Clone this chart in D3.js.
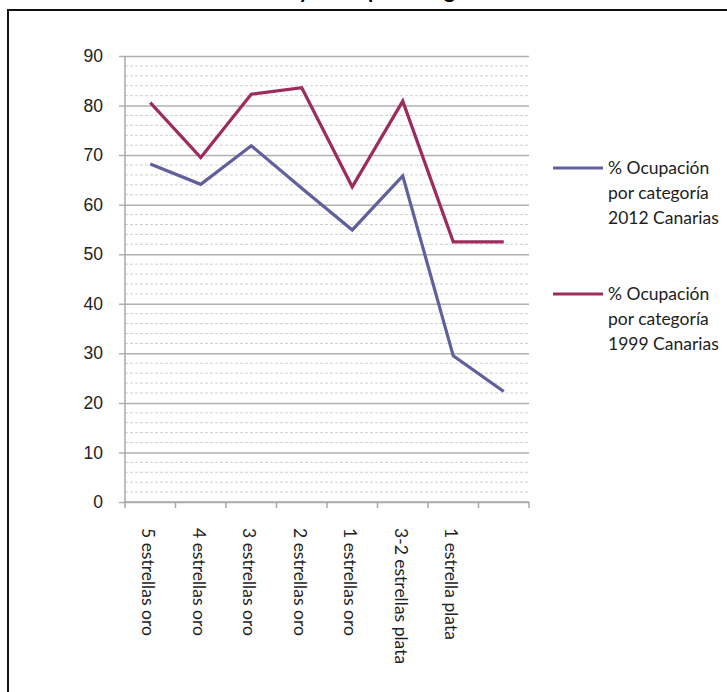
<!DOCTYPE html>
<html>
<head>
<meta charset="utf-8">
<script src="https://cdn.jsdelivr.net/npm/d3@7"></script>
<style>
  body { margin: 0; background: #fff; }
  svg { display: block; font-family: Lato, "Open Sans", sans-serif; }
</style>
</head>
<body>
<svg id="chart" width="727" height="692"></svg>
<script>
// categories (last one has no label in the original)
const categories = ["5 estrellas oro", "4 estrellas oro", "3 estrellas oro", "2 estrellas oro",
    "1 estrellas oro", "3-2 estrellas plata", "1 estrella plata", ""];
const serie2012 = [68.2, 64.1, 71.9, 63.3, 54.9, 65.8, 29.5, 22.3];
const serie1999 = [80.6, 69.5, 82.3, 83.6, 63.6, 80.9, 52.5, 52.5];
const yTicks = [0, 10, 20, 30, 40, 50, 60, 70, 80, 90];
const legendNames = [
    ["% Ocupación", "por categoría", "2012 Canarias"],
    ["% Ocupación", "por categoría", "1999 Canarias"]
];
const titleText = "1999 y 2012 por categoría";

const colors = ["#60609c", "#9c2c5e"];

const svg = d3.select("#chart");

// outer frame (cut on the right and bottom)
svg.append("rect")
    .attr("x", 8).attr("y", 10)
    .attr("width", 760).attr("height", 720)
    .attr("fill", "none")
    .attr("stroke", "#111")
    .attr("stroke-width", 2);

// title, sits above the visible area (only descenders show)
svg.append("text")
    .attr("x", 368).attr("y", -2)
    .attr("text-anchor", "middle")
    .attr("font-weight", "bold")
    .attr("font-size", 21)
    .text(titleText);

const plot = { left: 125, right: 529, top: 56, bottom: 502 };

const x = d3.scaleBand()
    .domain(d3.range(categories.length))
    .range([plot.left, plot.right])
    .padding(0);

const y = d3.scaleLinear()
    .domain([0, 90])
    .range([plot.bottom, plot.top]);

// minor dashed grid every 2
const minor = d3.range(2, 90, 2).filter(v => v % 10 !== 0);
svg.append("g")
    .selectAll("line")
    .data(minor)
    .join("line")
    .attr("x1", plot.left).attr("x2", plot.right)
    .attr("y1", d => y(d)).attr("y2", d => y(d))
    .attr("stroke", "#cfcfcf")
    .attr("stroke-width", 1)
    .attr("stroke-dasharray", "3,2");

// major grid + y axis
const yAxis = d3.axisLeft(y)
    .tickValues(yTicks)
    .tickSize(-(plot.right - plot.left))
    .tickPadding(22);

const yg = svg.append("g")
    .attr("transform", `translate(${plot.left},0)`)
    .call(yAxis);
yg.select(".domain").remove();
yg.selectAll(".tick line")
    .attr("stroke", "#b0b0b0")
    .attr("stroke-width", 1.5)
    .attr("x1", -6);
yg.selectAll(".tick text")
    .attr("font-size", 17.5)
    .attr("fill", "#222");

// vertical axis line
svg.append("line")
    .attr("x1", plot.left).attr("x2", plot.left)
    .attr("y1", plot.top).attr("y2", plot.bottom)
    .attr("stroke", "#a8a8a8")
    .attr("stroke-width", 1.5);

// x axis line and ticks at band boundaries
svg.append("line")
    .attr("x1", plot.left).attr("x2", plot.right)
    .attr("y1", plot.bottom).attr("y2", plot.bottom)
    .attr("stroke", "#a8a8a8")
    .attr("stroke-width", 1.5);

const bounds = d3.range(categories.length + 1).map(i => plot.left + i * x.bandwidth());
svg.append("g")
    .selectAll("line")
    .data(bounds)
    .join("line")
    .attr("x1", d => d).attr("x2", d => d)
    .attr("y1", plot.bottom).attr("y2", plot.bottom + 6)
    .attr("stroke", "#a8a8a8")
    .attr("stroke-width", 1.5);

// rotated category labels
svg.append("g")
    .selectAll("text")
    .data(categories)
    .join("text")
    .attr("transform", (d, i) => `translate(${x(i) + x.bandwidth() / 2 - 2},${plot.bottom + 26}) rotate(90)`)
    .attr("dy", "0.35em")
    .attr("font-size", 17.5)
    .attr("fill", "#222")
    .text(d => d);

// lines
const line = d3.line()
    .x((d, i) => x(i) + x.bandwidth() / 2)
    .y(d => y(d));

[serie2012, serie1999].forEach((serie, k) => {
    svg.append("path")
        .datum(serie)
        .attr("d", line)
        .attr("fill", "none")
        .attr("stroke", colors[k])
        .attr("stroke-width", 3.2)
        .attr("stroke-linejoin", "miter");
});

// legend
const legendY = [168, 294];
legendNames.forEach((names, k) => {
    const g = svg.append("g").attr("transform", `translate(553,${legendY[k]})`);
    g.append("line")
        .attr("x1", 0).attr("x2", 50)
        .attr("y1", 0).attr("y2", 0)
        .attr("stroke", colors[k])
        .attr("stroke-width", 3);
    g.selectAll("text")
        .data(names)
        .join("text")
        .attr("x", 55)
        .attr("y", (d, i) => i * 25)
        .attr("dy", "0.35em")
        .attr("font-size", 17.5)
        .attr("fill", "#222")
        .text(d => d);
});
</script>
</body>
</html>
